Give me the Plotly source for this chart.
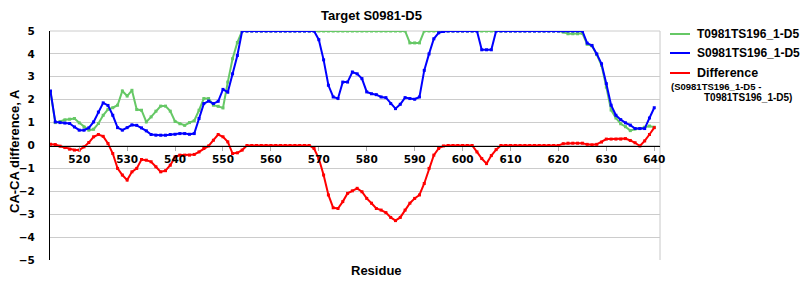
import plotly.graph_objects as go

residues = list(range(514, 641))

target_T = [
    2.33, 1.0, 1.05, 1.12, 1.15, 1.18, 0.99, 0.81, 0.67, 0.71,
    0.96, 1.32, 1.58, 1.65, 1.76, 2.38, 2.16, 2.41, 1.57, 1.54,
    1.03, 1.25, 1.5, 1.72, 1.72, 1.5, 1.05, 0.95, 0.88, 1.0,
    1.08, 1.54, 2.05, 2.05, 1.76, 1.71, 1.64, 2.77, 3.79, 4.5,
    5, 5, 5, 5, 5, 5, 5, 5, 5, 5, 5, 5, 5, 5, 5, 5, 5, 5, 5, 5,
    5, 5, 5, 5, 5, 5, 5, 5, 5, 5, 5, 5, 5, 5, 5,
    4.48, 4.48, 4.48,
    5, 5, 5, 5, 5, 5, 5, 5, 5, 5, 5, 5, 5, 5, 5, 5, 5, 5, 5, 5,
    5, 5, 5, 5, 5, 5, 5, 5, 5,
    4.95, 4.88, 4.88, 4.88, 4.9,
    4.42, 4.35, 3.97, 3.5, 2.55, 1.55, 1.2, 0.95, 0.82, 0.65,
    0.72, 0.74, 0.8, 0.85, 0.8,
]

server_S = [
    2.38, 1.03, 1.0, 0.98, 0.96, 0.81, 0.67, 0.67, 0.77, 1.03,
    1.46, 1.86, 1.75, 1.32, 0.78, 0.67, 0.78, 0.9, 0.88, 0.77,
    0.64, 0.48, 0.45, 0.45, 0.45, 0.48, 0.49, 0.52, 0.52, 0.49,
    0.52, 1.18, 1.83, 1.94, 1.83, 1.93, 2.45, 2.33, 3.13, 3.93,
    5, 5, 5, 5, 5, 5, 5, 5, 5, 5, 5, 5, 5, 5, 5, 5,
    4.62, 3.74, 2.63, 2.12, 2.05, 2.77, 2.77, 3.21, 3.13, 2.92,
    2.34, 2.26, 2.22, 2.12, 2.09, 1.83, 1.61, 1.8, 2.09, 2.05,
    2.02, 2.12, 3.28, 4.0, 4.66, 4.92, 4.98,
    5, 5, 5, 5, 5, 5, 5,
    4.18, 4.18, 4.18,
    5, 5, 5, 5, 5, 5, 5, 5, 5, 5, 5, 5, 5, 5, 5, 5, 5, 5, 5,
    4.47, 4.37, 4.0, 3.57, 2.7, 1.76, 1.32, 1.13, 0.99, 0.89,
    0.74, 0.74, 0.74, 1.2, 1.65,
]

difference = [
    0.06, 0.04, -0.03, -0.09, -0.16, -0.2, -0.2, -0.06, 0.13, 0.38,
    0.48, 0.4, 0.09, -0.35, -1.0, -1.29, -1.51, -1.15, -1.0, -0.61,
    -0.64, -0.71, -0.93, -1.15, -1.1, -0.86, -0.5, -0.42, -0.42, -0.42,
    -0.39, -0.28, -0.13, -0.02, 0.23, 0.48, 0.38, 0.16, -0.35, -0.32,
    -0.2,
    0, 0, 0, 0, 0, 0, 0, 0, 0, 0, 0, 0, 0, 0,
    -0.13, -0.57, -1.29, -2.16, -2.72, -2.75, -2.45, -2.09, -1.98, -1.87,
    -2.02, -2.31, -2.52, -2.75, -2.82, -2.93, -3.14, -3.28, -3.14, -2.82,
    -2.52, -2.31, -2.16, -1.66, -1.0, -0.42, -0.13, -0.02,
    0, 0, 0, 0, 0, 0,
    -0.28, -0.57, -0.79, -0.44, -0.18,
    0, 0, 0, 0, 0, 0, 0, 0, 0, 0, 0, 0, 0,
    0.08, 0.1, 0.1, 0.1, 0.1, 0.05, 0.03, 0.05, 0.15, 0.28,
    0.28, 0.28, 0.28, 0.3, 0.22, 0.12, -0.02, 0.2, 0.48, 0.78,
]

series_names = ["T0981TS196_1-D5", "S0981TS196_1-D5", "Difference"]
diff_subtitle = ["(S0981TS196_1-D5 -", "T0981TS196_1-D5)"]
colors = ["#66c866", "#0000ff", "#ff0000"]
x_ticks = list(range(520, 641, 10))
y_ticks = list(range(-5, 6))
title_text = "Target S0981-D5"
x_title = "Residue"
y_title = "CA-CA difference, A"

W, H = 800, 300
ML, MR, MT, MB = 50, 140, 31, 40
PW, PH = W - ML - MR, H - MT - MB


def px(x):
    return (x - ML) / PW


def py(y):
    return (H - MB - y) / PH


fig = go.Figure()
for name, vals, col in zip(series_names, [target_T, server_S, difference], colors):
    fig.add_trace(go.Scatter(
        x=residues, y=vals, mode="lines+markers", name=name,
        line=dict(color=col, width=2),
        marker=dict(color=col, size=3, symbol="square"),
        showlegend=False,
    ))

tickfont = dict(family="DejaVu Sans", size=10.5, color="black", weight="bold")
labfont = dict(family="Liberation Sans", size=13, color="black", weight="bold")

fig.update_layout(
    width=W, height=H,
    margin=dict(l=ML, r=MR, t=MT, b=MB),
    paper_bgcolor="white", plot_bgcolor="white",
    xaxis=dict(
        range=[513.9, 641.2], tickvals=x_ticks, showgrid=False, zeroline=False,
        anchor="free", position=0.5, showline=True, linecolor="black", linewidth=1,
        ticks="outside", ticklen=4, tickcolor="#aaaaaa", tickfont=tickfont,
    ),
    yaxis=dict(
        range=[-5, 5], tickvals=y_ticks, showgrid=True, gridcolor="#cccccc",
        gridwidth=1, zeroline=False,
        showline=True, linecolor="black", linewidth=1, ticks="",
        ticklabelstandoff=12, tickfont=tickfont,
    ),
)

shapes = [
    dict(type="line", xref="paper", yref="paper", x0=1, x1=1, y0=0, y1=1,
         line=dict(color="#c8c8c8", width=1), layer="below"),
    dict(type="line", xref="paper", yref="paper", x0=0, x1=1, y0=1, y1=1,
         line=dict(color="#cccccc", width=1), layer="below"),
]
annotations = [
    dict(text=title_text, xref="paper", yref="paper", x=px(371), y=py(15),
         showarrow=False, xanchor="center", yanchor="middle", font=labfont),
    dict(text=x_title, xref="paper", yref="paper", x=px(376), y=py(270),
         showarrow=False, xanchor="center", yanchor="middle", font=labfont),
    dict(text=y_title, xref="paper", yref="paper", x=px(14), y=py(151),
         showarrow=False, xanchor="center", yanchor="middle", textangle=-90,
         font=labfont),
]
leg_y = [34, 53, 73]
for name, col, yy in zip(series_names, colors, leg_y):
    shapes.append(dict(type="line", xref="paper", yref="paper",
                       x0=px(670), x1=px(690), y0=py(yy), y1=py(yy),
                       line=dict(color=col, width=2)))
    annotations.append(dict(text=name, xref="paper", yref="paper", x=px(695), y=py(yy),
                            showarrow=False, xanchor="left", yanchor="middle",
                            font=dict(family="Liberation Sans", size=12 if name != "Difference" else 12.5,
                                      color="black", weight="bold")))
annotations.append(dict(text=diff_subtitle[0], xref="paper", yref="paper", x=px(669), y=py(86),
                        showarrow=False, xanchor="left", yanchor="middle",
                        font=dict(family="Liberation Sans", size=9.5, color="black", weight="bold")))
annotations.append(dict(text=diff_subtitle[1], xref="paper", yref="paper", x=px(702), y=py(97),
                        showarrow=False, xanchor="left", yanchor="middle",
                        font=dict(family="Liberation Sans", size=10, color="black", weight="bold")))
fig.update_layout(shapes=shapes, annotations=annotations)

fig.write_html("out.html")
